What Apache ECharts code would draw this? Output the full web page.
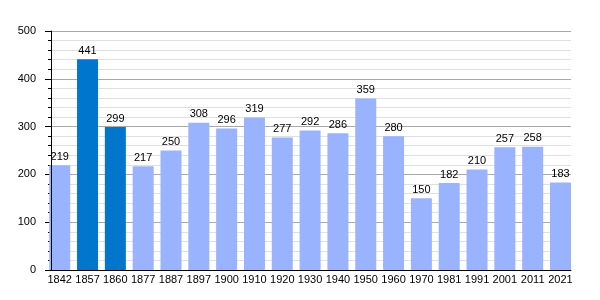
<!DOCTYPE html>
<html><head><meta charset="utf-8">
<script src="https://cdn.jsdelivr.net/npm/echarts@6/dist/echarts.min.js"></script>
<style>html,body{margin:0;padding:0;background:#fff}#c{width:600px;height:300px}</style>
</head><body><div id="c"></div>
<script>
const years = ['1842','1857','1860','1877','1887','1897','1900','1910','1920','1930','1940','1950','1960','1970','1981','1991','2001','2011','2021'];
const population = [219,441,299,217,250,308,296,319,277,292,286,359,280,150,182,210,257,258,183];
const highlighted = ['1857','1860'];
const yTicks = {min:0, max:500, interval:100};

const LIGHT = '#99b3ff', DARK = '#0077cc';
const font = 'Liberation Sans, Arial, sans-serif';
const chart = echarts.init(document.getElementById('c'), null, {renderer:'canvas'});
chart.setOption({
  animation:false,
  grid:[
    {left:51, right:29, top:31, bottom:30, containLabel:false},
    {left:45.8, width:528.6, top:31, bottom:30, containLabel:false}
  ],
  xAxis:[
    {gridIndex:0, type:'value', min:0, max:1, z:10, axisLine:{show:true, lineStyle:{color:'#000', width:1}}, axisTick:{show:false}, axisLabel:{show:false}, splitLine:{show:false}},
    {gridIndex:1, type:'category', data:years, axisLine:{show:false}, axisTick:{show:false},
     axisLabel:{color:'#000', fontSize:11, fontFamily:font, margin:4, interval:0}}
  ],
  yAxis:[
    {gridIndex:0, position:'left', type:'value', min:yTicks.min, max:yTicks.max, interval:yTicks.interval, z:0,
     axisLine:{show:false},
     axisTick:{show:true, length:6, lineStyle:{color:'#000'}},
     minorTick:{show:true, splitNumber:5, length:3, lineStyle:{color:'#000'}},
     axisLabel:{color:'#000', fontSize:11, fontFamily:font, margin:15},
     splitLine:{show:true, lineStyle:{color:'#aaaaaa', width:1}},
     minorSplitLine:{show:true, lineStyle:{color:'#e0e0e0', width:1}}},
    {gridIndex:1, type:'value', min:yTicks.min, max:yTicks.max, show:false},
    {gridIndex:0, position:'left', offset:0, type:'value', min:yTicks.min, max:yTicks.max, interval:yTicks.interval, z:10,
     axisLine:{show:true, onZero:false, lineStyle:{color:'#000', width:1}}, axisTick:{show:false}, axisLabel:{show:false}, splitLine:{show:false}}
  ],
  series:[{
    type:'bar', xAxisIndex:1, yAxisIndex:1, barWidth:21,
    data: population.map((v,i)=>({value:v, itemStyle:{color: highlighted.includes(years[i]) ? DARK : LIGHT}})),
    label:{show:true, position:'top', distance:3, color:'#000', fontSize:11, fontFamily:font},
    z:2
  }]
});
</script></body></html>
